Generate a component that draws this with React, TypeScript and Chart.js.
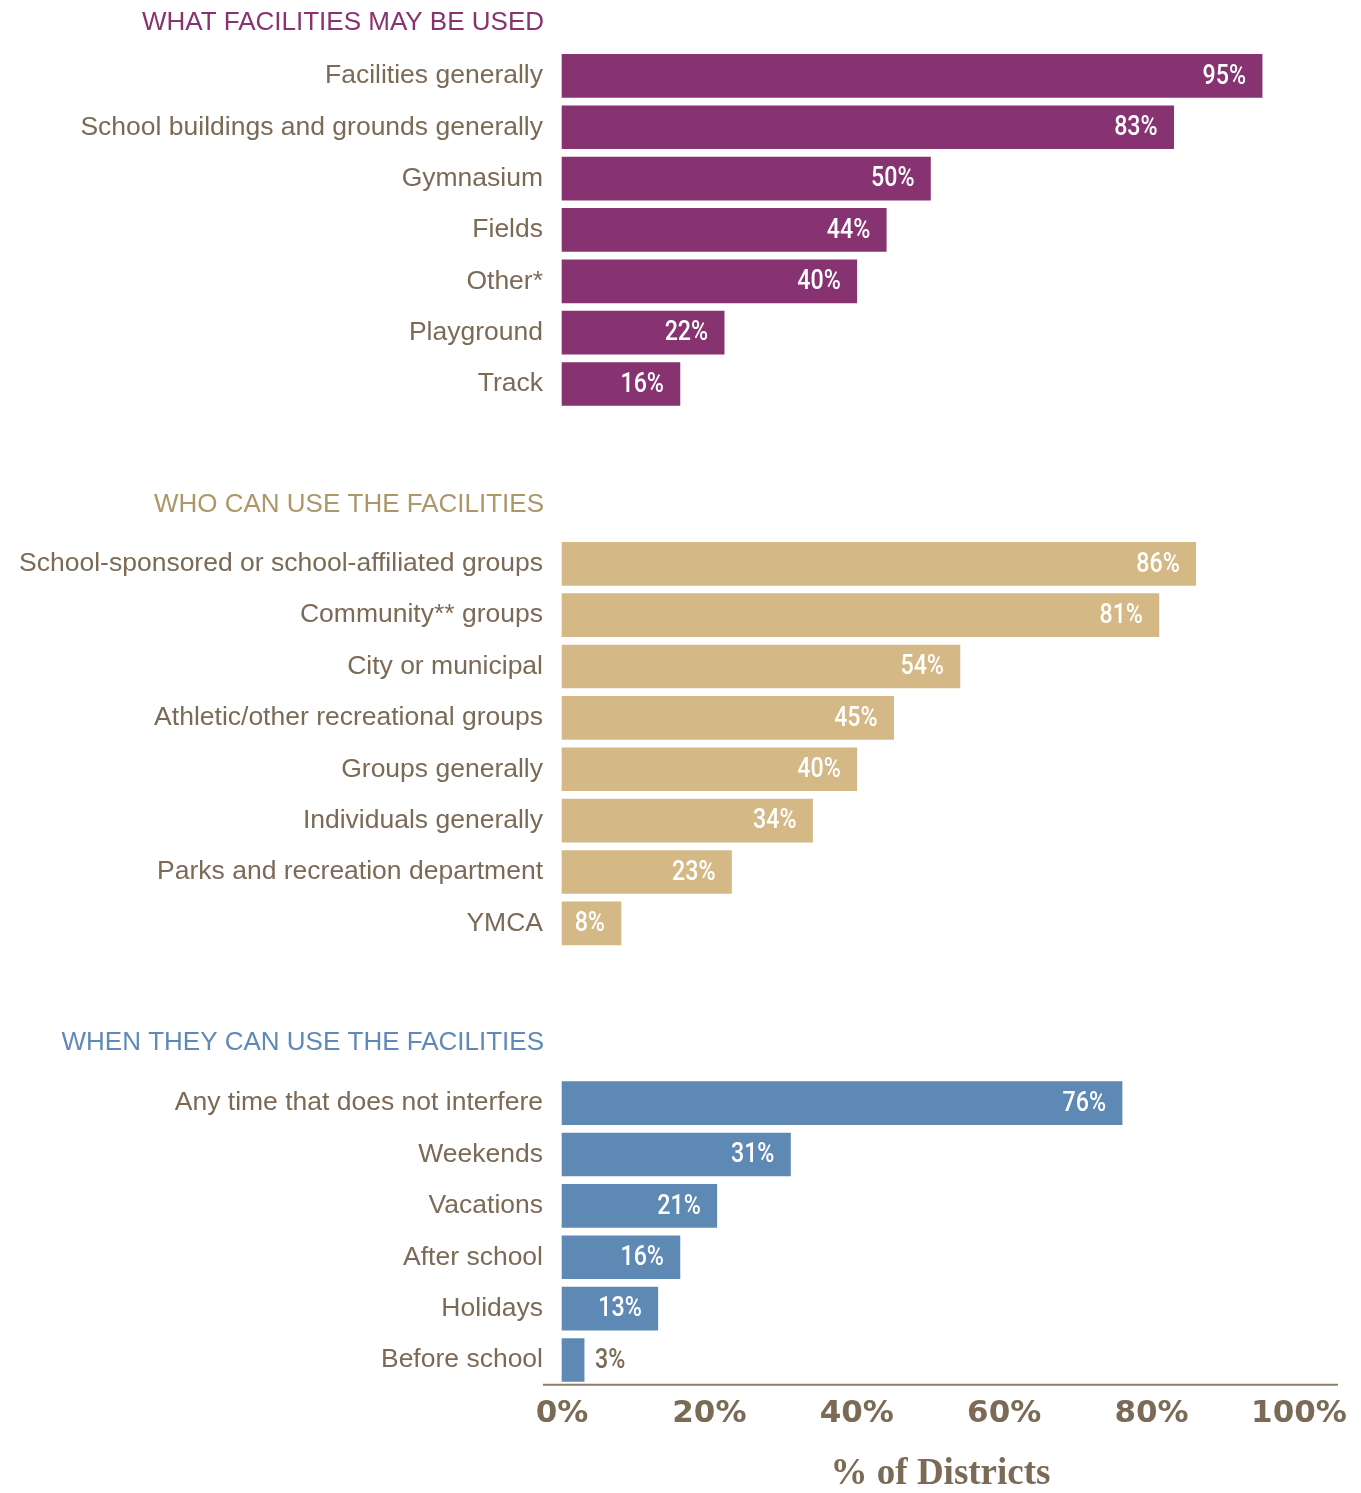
import React, { useEffect, useRef } from "react";
import { Chart, registerables } from "chart.js";

Chart.register(...registerables);

// ---------- data ----------
const groupTitles = [
  "WHAT FACILITIES MAY BE USED",
  "WHO CAN USE THE FACILITIES",
  "WHEN THEY CAN USE THE FACILITIES",
];

const whatLabels = [
  "Facilities generally",
  "School buildings and grounds generally",
  "Gymnasium",
  "Fields",
  "Other*",
  "Playground",
  "Track",
];
const whatValues = [95, 83, 50, 44, 40, 22, 16];

const whoLabels = [
  "School-sponsored or school-affiliated groups",
  "Community** groups",
  "City or municipal",
  "Athletic/other recreational groups",
  "Groups generally",
  "Individuals generally",
  "Parks and recreation department",
  "YMCA",
];
const whoValues = [86, 81, 54, 45, 40, 34, 23, 8];

const whenLabels = [
  "Any time that does not interfere",
  "Weekends",
  "Vacations",
  "After school",
  "Holidays",
  "Before school",
];
const whenValues = [76, 31, 21, 16, 13, 3];

const xTickValues = [0, 20, 40, 60, 80, 100];
const xTitle = "% of Districts";

// ---------- styles ----------
const BROWN = "#7b6a55";
const AXIS_LINE = "#8c7b67";
const barColors = ["#873371", "#d4b886", "#5f89b5"];
const titleColors = ["#88336f", "#ad9769", "#5e89b8"];
const headerOffsets = [53, 59, 60];

export default function App() {
  const ref = useRef<HTMLCanvasElement>(null);

  useEffect(() => {
    if (!ref.current) return;
    const groups = [
      { labels: whatLabels, values: whatValues },
      { labels: whoLabels, values: whoValues },
      { labels: whenLabels, values: whenValues },
    ];
    const labels: string[] = [];
    const values: (number | null)[] = [];
    const colors: string[] = [];
    const firstIndex: number[] = [];
    const pushBlank = () => {
      labels.push("");
      values.push(null);
      colors.push("rgba(0,0,0,0)");
    };
    groups.forEach((g, gi) => {
      if (gi > 0) for (let k = 0; k < 6; k++) pushBlank();
      firstIndex.push(labels.length);
      g.labels.forEach((l, i) => {
        if (i > 0) pushBlank();
        labels.push(l);
        values.push(g.values[i]);
        colors.push(barColors[gi]);
      });
    });

    const decor = {
      id: "decor",
      afterDraw(chart: any) {
        const { ctx, chartArea, scales } = chart;
        const ys = scales.y;
        ctx.save();
        // axis line
        ctx.strokeStyle = AXIS_LINE;
        ctx.lineWidth = 2;
        ctx.beginPath();
        ctx.moveTo(chartArea.left, chartArea.bottom + 12);
        ctx.lineTo(chartArea.right, chartArea.bottom + 12);
        ctx.stroke();
        // group headers
        ctx.font = "26px 'Liberation Sans', Arial, sans-serif";
        ctx.textAlign = "right";
        ctx.textBaseline = "middle";
        groupTitles.forEach((t, gi) => {
          ctx.fillStyle = titleColors[gi];
          ctx.fillText(t, chartArea.left + 1, ys.getPixelForValue(firstIndex[gi]) - headerOffsets[gi]);
        });
        // value labels (condensed)
        const meta = chart.getDatasetMeta(0);
        ctx.font = "500 27px Roboto, 'DejaVu Sans Condensed', sans-serif";
        const sx = 0.86;
        meta.data.forEach((bar: any, i: number) => {
          const v = values[i];
          if (v == null) return;
          const p = bar.getProps(["x", "y", "base"], true);
          const w = p.x - p.base;
          const txt = v + "%";
          ctx.save();
          if (w > 45) {
            ctx.fillStyle = "#ffffff";
            ctx.textAlign = "right";
            ctx.translate(p.x - 16, p.y + 1);
          } else {
            ctx.fillStyle = BROWN;
            ctx.textAlign = "left";
            ctx.translate(p.x + 11, p.y + 1);
          }
          ctx.scale(sx, 1);
          ctx.fillText(txt, 0, 0);
          ctx.restore();
        });
        ctx.restore();
      },
    };

    const chart = new Chart(ref.current, {
      type: "bar",
      data: {
        labels,
        datasets: [
          {
            data: values,
            backgroundColor: colors,
            borderWidth: 0,
            barThickness: 43,
            clip: false,
          } as any,
        ],
      },
      options: {
        indexAxis: "y",
        animation: false,
        responsive: true,
        maintainAspectRatio: false,
        layout: { padding: { top: 55, right: 15, bottom: 0, left: 0 } },
        plugins: {
          legend: { display: false },
          tooltip: { enabled: false },
        },
        scales: {
          x: {
            type: "linear",
            min: -2.58,
            max: 105.3,
            grid: { display: false, drawTicks: false },
            border: { display: false },
            afterBuildTicks: (s: any) => {
              s.ticks = xTickValues.map((v) => ({ value: v }));
            },
            afterFit: (s: any) => {
              s.paddingLeft = 0;
              s.paddingRight = 0;
            },
            ticks: {
              padding: 23,
              color: BROWN,
              font: { family: "'DejaVu Sans', sans-serif", weight: "bold", size: 31 },
              callback: (v: any) => v + "%",
              maxRotation: 0,
            },
            title: {
              display: true,
              text: xTitle,
              color: BROWN,
              font: { family: "'Liberation Serif', serif", weight: "bold", size: 37, lineHeight: 1 },
              padding: { top: 0, bottom: 0 },
            },
          },
          y: {
            type: "category",
            grid: { display: false, drawTicks: false },
            border: { display: false },
            afterFit: (s: any) => {
              s.width = 535;
            },
            ticks: {
              autoSkip: false,
              padding: 0,
              color: BROWN,
              font: { family: "'Liberation Sans', Arial, sans-serif", size: 26.5 },
            },
          },
        },
      },
      plugins: [decor],
    });
    return () => chart.destroy();
  }, []);

  return (
    <div style={{ width: 1345, height: 1485, position: "relative" }}>
      <canvas ref={ref} />
    </div>
  );
}
